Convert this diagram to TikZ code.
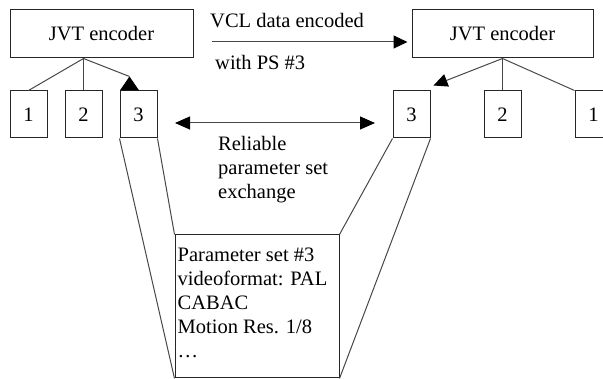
\documentclass[tikz,border=0pt]{standalone}
\usepackage{fontspec}
\setmainfont{Liberation Serif}
\usetikzlibrary{arrows.meta,calc}
\tikzset{
  blk/.style={draw=black!85, line width=1pt, inner sep=0pt},
  cn/.style={draw=black!72, line width=1pt},
  tip/.style={-{Triangle[length=14pt,width=13pt,color=black]}},
  txt/.style={inner sep=0pt, align=left},
}
\begin{document}
\begin{tikzpicture}[x=1pt, y=-1pt, font=\fontsize{20.5}{24}\selectfont]
\pgfmathsetmacro{\bw}{37}
\pgfmathsetmacro{\bh}{47}
\pgfmathsetmacro{\by}{114.5}

\useasboundingbox (0, 0) rectangle (603, 379);

\node[blk, minimum width=183pt, minimum height=48pt] (encL) at (101.5, 34) {JVT encoder};
\node[blk, minimum width=181pt, minimum height=48pt] (encR) at (502.5, 34) {JVT encoder};

\foreach \n/\x in {1/28.5, 2/83.5, 3/138.5}
  \node[blk, minimum width=\bw pt, minimum height=\bh pt] (b\n l) at (\x, \by) {\n};
\foreach \n/\x in {3/411.5, 2/502.5, 1/593.5}
  \node[blk, minimum width=\bw pt, minimum height=\bh pt] (b\n r) at (\x, \by) {\n};

\coordinate (jl) at (b2l.north |- encL.south);
\coordinate (jr) at (b2r.north |- encR.south);
\coordinate (ab) at ($(b3l.north west)+(10, 0)$);
\coordinate (ap) at ($(b3l.north west)+(10, -14)$);
\coordinate (at) at ($(b3r.north east)+(3, -5)$);

\draw[cn] (jl) -- (b1l.north);
\draw[cn] (jl) -- (b2l.north);
\draw[cn] (jl) -- (ap);
\draw[cn, -{Triangle[length=14pt,width=19pt,color=black]}] (ab) -- (ap);

\draw[cn] (jr) -- (b2r.north);
\draw[cn] (jr) -- (b1r.north west);
\draw[cn, tip] (jr) -- (at);

\coordinate (vs) at (212, 42);
\coordinate (ve) at ($(encR.west)+(-4, 8)$);
\draw[cn, tip] (vs) -- (ve);
\node[txt, anchor=base west] (vcl) at (210, 28) {VCL data encoded};
\node[txt, anchor=base west] (wps) at (215, 70) {with PS \#3};

\coordinate (xl) at (175, 123);
\coordinate (xr) at (375, 123);
\draw[cn, {Triangle[length=15pt,width=13pt,color=black]}-{Triangle[length=15pt,width=13pt,color=black]}] (xl) -- (xr);
\node[txt, anchor=north west] (rel) at (218, 136) {Reliable\\parameter set\\exchange};

\node[blk, minimum width=164pt, minimum height=143pt] (ps) at (257, 306.5) {};
\node[txt, anchor=north west] (pst) at ($(ps.north west)+(3, 13)$)
  {Parameter set \#3\\videoformat: PAL\\CABAC\\Motion Res. 1/8\\…};

\draw[cn] (b3l.south west) -- (ps.south west);
\draw[cn] (b3l.south east) -- (ps.north west);
\draw[cn] (b3r.south west) -- (ps.north east);
\draw[cn] (b3r.south east) -- (ps.south east);
\end{tikzpicture}
\end{document}
